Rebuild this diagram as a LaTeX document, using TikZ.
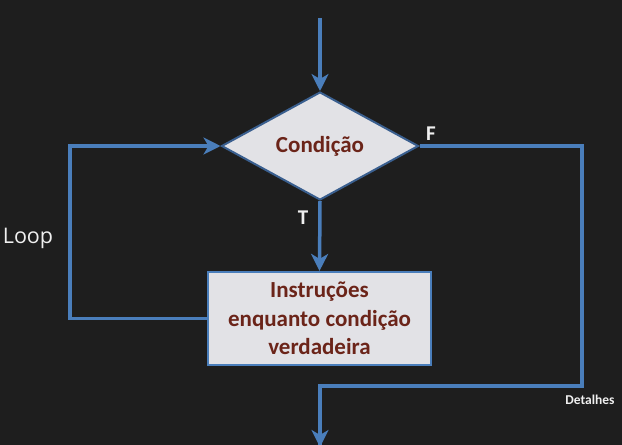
\documentclass[tikz,border=0pt]{standalone}
\usepackage{fontspec}
\setmainfont{Carlito}
\newfontfamily\loopfont{Open Sans}
\usetikzlibrary{shapes.geometric,arrows.meta}
\definecolor{bg}{HTML}{1E1E1E}
\definecolor{flow}{HTML}{4A7EBB}
\definecolor{edge}{HTML}{3A5F8F}
\definecolor{boxfill}{HTML}{E2E2E6}
\definecolor{txt}{HTML}{6B2419}
\definecolor{lbl}{HTML}{F0F0F0}
\tikzset{
  flowline/.style={draw=flow,line width=3.5pt},
  arr/.style={flowline,-{Stealth[length=17pt,width=17pt,inset=5pt]}},
  cond/.style={diamond,draw=edge,line width=2pt,fill=boxfill,aspect=1.82,minimum width=197pt,minimum height=108pt,inner sep=0pt,font=\bfseries\fontsize{23}{26}\selectfont,text=txt},
  instr/.style={rectangle,draw=flow,line width=2.2pt,fill=boxfill,minimum width=223pt,minimum height=93pt,align=center,font=\bfseries\fontsize{23}{28.5}\selectfont,text=txt},
  tf/.style={font=\bfseries\fontsize{21}{22}\selectfont,text=lbl},
}
\begin{document}
\begin{tikzpicture}[x=1pt,y=-1pt]
\fill[bg] (0,0) rectangle (622,445);
\useasboundingbox (0,0) rectangle (622,445);
\coordinate (top) at (320,18);
\node[cond] (c) at (320,146) {Condição};
\node[instr] (b) at (319.5,318.5) {Instruções\\enquanto condição\\verdadeira};
\coordinate (l1) at (70,318.5);
\coordinate (l2) at (70,146);
\coordinate (r1) at (582,146);
\coordinate (r2) at (582,386);
\coordinate (r3) at (320,386);
\coordinate (bot) at (320,447);
\draw[arr] (top) -- (c.north);
\draw[arr] (c.south) -- (b.north);
\draw[arr] (b.west) -- (l1) -- (l2) -- (c.west);
\draw[flowline,line join=miter] (c.east) -- (r1) -- (r2) -- (r3) -- (bot);
\draw[arr] (r3) -- (bot);
\node[tf] (F) at (431,134) {F};
\node[tf] (T) at (303,218) {T};
\node[font=\loopfont\fontsize{21.5}{23}\selectfont,text=lbl] (loop) at (28,238) {Loop};
\node[font=\bfseries\fontsize{13.5}{14}\selectfont,text=lbl] (det) at (590,400) {Detalhes};
\end{tikzpicture}
\end{document}
